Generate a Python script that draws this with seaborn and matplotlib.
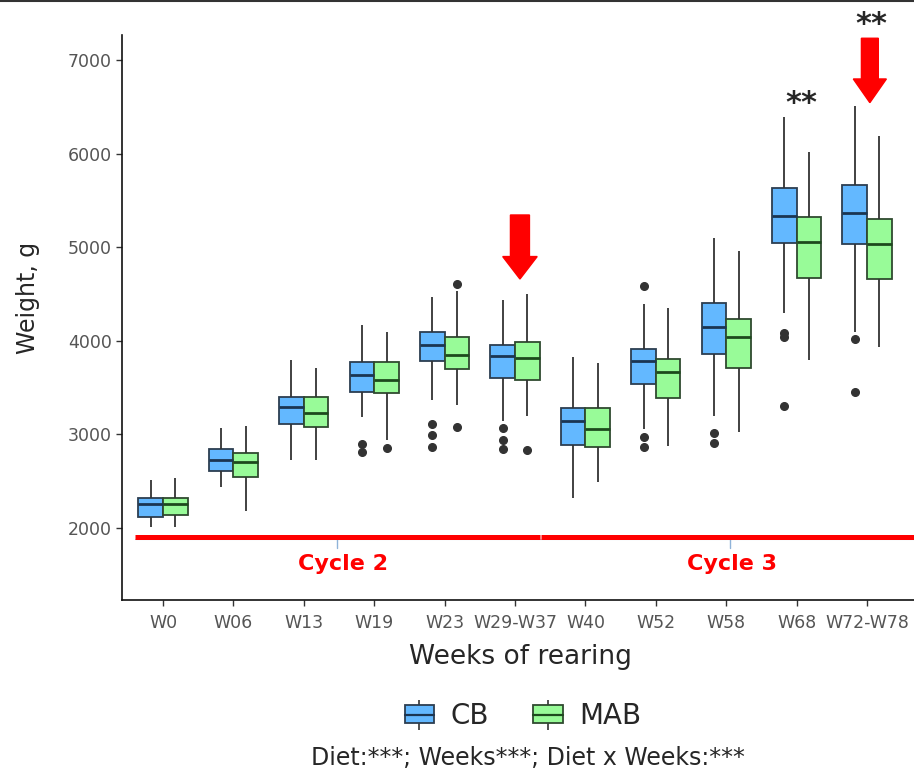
import numpy as np
import pandas as pd
import matplotlib.pyplot as plt
import seaborn as sns
from matplotlib.patches import Rectangle
from matplotlib.lines import Line2D
from matplotlib.legend_handler import HandlerTuple

weeks = ['W0', 'W06', 'W13', 'W19', 'W23', 'W29-W37', 'W40', 'W52', 'W58', 'W68', 'W72-W78']
diets = ['CB', 'MAB']

# box summaries: lower whisker, Q1, median, Q3, upper whisker, outliers
cb_low = [2014, 2435, 2727, 3183, 3368, 3146, 2317, 3058, 3197, 4301, 4098]
cb_q1 = [2121, 2609, 3114, 3456, 3784, 3606, 2887, 3539, 3859, 5042, 5031]
cb_med = [2253, 2723, 3293, 3631, 3951, 3838, 3143, 3788, 4151, 5337, 5369]
cb_q3 = [2324, 2844, 3403, 3777, 4097, 3955, 3285, 3909, 4408, 5637, 5665]
cb_high = [2513, 3072, 3795, 4169, 4471, 4436, 3830, 4390, 5095, 6395, 6512]
cb_out = [[], [], [], [2895, 2815], [3110, 2990, 2870], [3064, 2940, 2840], [],
          [4589, 2969, 2862], [3020, 2910], [4087, 4044, 3307], [4016, 3456]]

mab_low = [2014, 2182, 2727, 2940, 3314, 3200, 2488, 2879, 3029, 3795, 3931]
mab_q1 = [2136, 2542, 3082, 3439, 3695, 3581, 2862, 3386, 3713, 4668, 4657]
mab_med = [2256, 2709, 3225, 3581, 3848, 3820, 3054, 3670, 4037, 5053, 5034]
mab_q3 = [2324, 2798, 3403, 3777, 4044, 3990, 3285, 3806, 4230, 5327, 5299]
mab_high = [2531, 3090, 3713, 4090, 4535, 4500, 3759, 4354, 4963, 6021, 6191]
mab_out = [[], [], [], [2850], [4607, 3083], [2833], [], [], [], [], []]

colors = {'CB': '#63B8FF', 'MAB': '#98FB98'}
edges = {'CB': '#2c3e50', 'MAB': '#2f4a2f'}
medians = {'CB': '#1b3552', 'MAB': '#1d4a1d'}


def sample(lo, q1, med, q3, hi, out):
    # points whose boxplot stats give back exactly the summary above
    below = sorted(v for v in out if v < med)
    above = sorted(v for v in out if v > med)
    h = max(2 * len(below) + 2, 2 * len(above) + 2, 4)
    return (below + [lo] + [q1] * (h - len(below) - 1) + [med]
            + [q3] * (h - len(above) - 1) + [hi] + above)


rows = []
stats = {'CB': (cb_low, cb_q1, cb_med, cb_q3, cb_high, cb_out),
         'MAB': (mab_low, mab_q1, mab_med, mab_q3, mab_high, mab_out)}
for d in diets:
    for i, w in enumerate(weeks):
        vals = sample(*[s[i] for s in stats[d]])
        rows += [{'week': w, 'diet': d, 'weight': v} for v in vals]
df = pd.DataFrame(rows)

sns.set_style('ticks')
plt.rcParams['font.family'] = ['DejaVu Sans']

fig = plt.figure(figsize=(9.14, 7.72), dpi=100)
ax = fig.add_axes([0.1335, 0.2228, 0.8665, 0.7319])

for d in diets:
    sns.boxplot(data=df[df.diet == d], x='week', y='weight', hue='diet',
                order=weeks, hue_order=diets, palette=colors, saturation=1,
                width=0.7, gap=0, dodge=True, linewidth=1.3, linecolor='#333333',
                showcaps=False, legend=False, ax=ax,
                boxprops={'edgecolor': edges[d]},
                medianprops={'color': medians[d], 'linewidth': 2},
                flierprops={'marker': 'o', 'markerfacecolor': '#333333',
                            'markeredgecolor': '#333333', 'markersize': 5.5})

ax.set_xlim(-0.582, 10.667)
ax.set_ylim(1231, 7267)
ax.set_yticks([2000, 3000, 4000, 5000, 6000, 7000])
sns.despine(ax=ax)
for s in ['left', 'bottom']:
    ax.spines[s].set_color('#111111')
    ax.spines[s].set_linewidth(1.2)
ax.tick_params(length=4, width=1, color='#333333', labelcolor='#555555', labelsize=12.5)
ax.tick_params(axis='x', pad=6)

ax.set_xlabel('Weeks of rearing', fontsize=19)
ax.set_ylabel('Weight, g', fontsize=17)
ax.xaxis.set_label_coords(0.5025, -0.078)
ax.yaxis.set_label_coords(-0.1035, 0.535)

# cycle bars
ax.plot([-0.4, 5.35], [1904, 1904], color='red', lw=3.6, solid_capstyle='butt', zorder=5, clip_on=False)
ax.plot([5.37, 10.75], [1904, 1904], color='red', lw=3.6, solid_capstyle='butt', zorder=5, clip_on=False)
ax.plot([-0.4, 10.75], [1880, 1880], color='#7fa6d6', lw=0.8, alpha=0.6, zorder=4, clip_on=False)
for xc in [2.47, 8.05]:
    ax.plot([xc, xc], [1880, 1790], color='#8fb3d9', lw=1, zorder=4)
ax.text(2.56, 1615, 'Cycle 2', color='red', fontsize=16, fontweight='bold', ha='center', va='center')
ax.text(8.08, 1615, 'Cycle 3', color='red', fontsize=16, fontweight='bold', ha='center', va='center')

# arrows and significance marks
ax.arrow(5.07, 5344, 0, 4660 - 5344, width=0.27, head_width=0.49, head_length=240,
         length_includes_head=True, color='red', zorder=6)
ax.arrow(10.04, 7232, 0, 6544 - 7232, width=0.24, head_width=0.47, head_length=253,
         length_includes_head=True, color='red', zorder=6, clip_on=False)
ax.text(9.06, 6530, '**', fontsize=22, fontweight='bold', ha='center', va='center')
ax.text(10.06, 7374, '**', fontsize=22, fontweight='bold', ha='center', va='center', clip_on=False)


def key(d):
    wh = Line2D([], [], color='#333333', marker='|', markersize=21, linestyle='none', markeredgewidth=1.2)
    box = Rectangle((0, 0), 1, 1, facecolor=colors[d], edgecolor=edges[d], lw=1.3)
    mid = Line2D([], [], color=medians[d], lw=1.6)
    return (wh, box, mid)


fig.legend([key(d) for d in diets], diets, loc='center', bbox_to_anchor=(523 / 914, 1 - 716 / 772),
           ncol=2, frameon=False, fontsize=20, handler_map={tuple: HandlerTuple(ndivide=1, pad=0)},
           handlelength=1.05, handleheight=0.62, handletextpad=0.6, columnspacing=1.6)
fig.text(528 / 914, 1 - 758 / 772, 'Diet:***; Weeks***; Diet x Weeks:***', ha='center', va='center', fontsize=17)
fig.add_artist(Line2D([0, 1], [0.999, 0.999], color='#333333', lw=1.5, transform=fig.transFigure))

fig.savefig('out.png', dpi=100)
